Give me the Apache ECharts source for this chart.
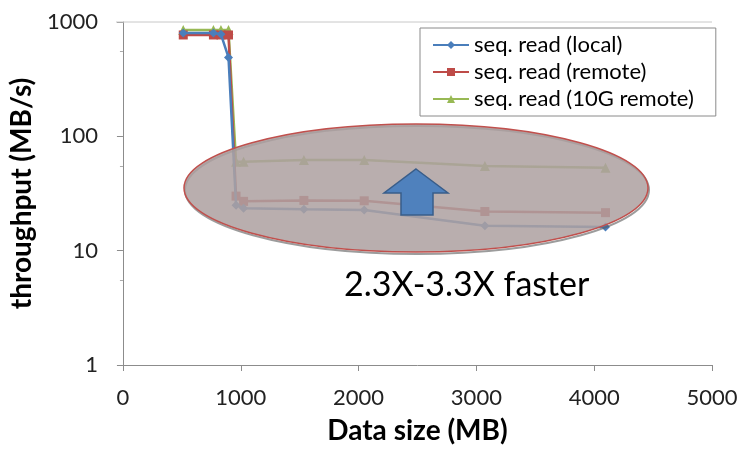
<!DOCTYPE html>
<html>
<head>
<meta charset="utf-8">
<script src="https://cdn.jsdelivr.net/npm/echarts@6/dist/echarts.min.js"></script>
<style>
  html, body { margin: 0; padding: 0; background: #fff; }
  #chart { width: 743px; height: 450px; }
</style>
</head>
<body>
<div id="chart"></div>
<script>
// data size (MB) for each measurement
var sizes = [512, 768, 832, 896, 960, 1024, 1536, 2048, 3072, 4096];
// throughput (MB/s)
var localRead = [800, 800, 780, 490, 25, 23.5, 23, 22.7, 16.5, 16.1];
var remoteRead = [770, 770, 770, 770, 30, 27, 27.5, 27.3, 22, 21.5];
var remote10gRead = [850, 850, 850, 850, 60, 60, 62, 62, 55, 53];

var seriesNames = ['seq. read (local)', 'seq. read (remote)', 'seq. read (10G remote)'];
var seriesColors = ['#4A7EBB', '#BE4B48', '#98B954'];
var seriesSymbols = ['diamond', 'rect', 'triangle'];

var font = 'Lato, "Liberation Sans", sans-serif';

function pairs(ys) {
    var out = [];
    for (var i = 0; i < sizes.length; i++) {
        out.push([sizes[i], ys[i]]);
    }
    return out;
}

function mkSeries(idx, ys) {
    return {
        name: seriesNames[idx],
        type: 'line',
        data: pairs(ys),
        symbol: seriesSymbols[idx],
        symbolSize: idx === 2 ? 10 : 9,
        lineStyle: { width: 2.5, color: seriesColors[idx] },
        itemStyle: { color: seriesColors[idx] },
        z: 3 - idx
    };
}

var chart = echarts.init(document.getElementById('chart'));

var option = {
    animation: false,
    grid: { left: 116, right: 31, top: 22, bottom: 81 },
    legend: {
        orient: 'vertical',
        left: 420,
        top: 28,
        padding: [6, 22, 6, 12],
        itemGap: 5,
        itemWidth: 36,
        itemHeight: 10,
        backgroundColor: '#fff',
        borderColor: '#8a8a8a',
        borderWidth: 1,
        borderRadius: 0,
        textStyle: { fontFamily: font, fontSize: 22, color: '#000', padding: [0, 0, 0, 0] },
        data: seriesNames
    },
    xAxis: {
        type: 'value',
        min: 0,
        max: 5000,
        interval: 1000,
        name: 'Data size (MB)',
        nameLocation: 'middle',
        nameGap: 52,
        nameTextStyle: { fontFamily: font, fontSize: 28, fontWeight: 'bold', color: '#000' },
        axisLine: { lineStyle: { color: '#8c8c8c', width: 1 } },
        axisTick: { show: true, inside: false, length: 6, lineStyle: { color: '#8c8c8c' } },
        axisLabel: { fontFamily: font, fontSize: 22, color: '#222', margin: 22, formatter: function (v) { return String(v); } },
        splitLine: { show: false }
    },
    yAxis: {
        type: 'log',
        logBase: 10,
        min: 1,
        max: 1000,
        name: 'throughput (MB/s)',
        nameLocation: 'middle',
        nameGap: 80,
        nameRotate: 90,
        nameTextStyle: { fontFamily: font, fontSize: 28, fontWeight: 'bold', color: '#000' },
        axisLine: { show: true, lineStyle: { color: '#8c8c8c', width: 1 } },
        axisTick: { show: true, inside: false, length: 6, lineStyle: { color: '#8c8c8c' } },
        minorTick: { show: true, splitNumber: 2, length: 3, lineStyle: { color: '#aaa' } },
        axisLabel: { fontFamily: font, fontSize: 22, color: '#222', margin: 25, formatter: function (v) { return String(Math.round(v)); } },
        splitLine: { show: false }
    },
    series: [
        mkSeries(0, localRead),
        mkSeries(1, remoteRead),
        mkSeries(2, remote10gRead)
    ],
    graphic: [
        {
            // top border of the plot area
            type: 'line',
            shape: { x1: 116, y1: 22, x2: 712, y2: 22 },
            style: { stroke: '#c8c8c8', lineWidth: 1 },
            z: 1
        },
        {
            // soft shadow of the highlight ellipse
            type: 'ellipse',
            shape: { cx: 417, cy: 190, rx: 232, ry: 64 },
            style: { fill: 'none', stroke: 'rgba(90,90,90,0.6)', lineWidth: 2 },
            z: 49
        },
        {
            type: 'ellipse',
            shape: { cx: 416, cy: 188, rx: 232, ry: 64 },
            style: {
                fill: 'rgba(174,161,161,0.86)',
                stroke: '#C0504D',
                lineWidth: 1.5
            },
            z: 50
        },
        {
            type: 'polygon',
            shape: {
                points: [[416, 169], [448, 193], [433, 193], [433, 215], [401, 215], [401, 193], [384, 193]]
            },
            style: { fill: '#4F81BD', stroke: '#385D8A', lineWidth: 1.5 },
            z: 51
        },
        {
            type: 'text',
            left: 344,
            top: 268,
            style: {
                text: '2.3X-3.3X faster',
                font: '34px ' + font,
                fill: '#000'
            },
            z: 51
        }
    ]
};

chart.setOption(option);
</script>
</body>
</html>
